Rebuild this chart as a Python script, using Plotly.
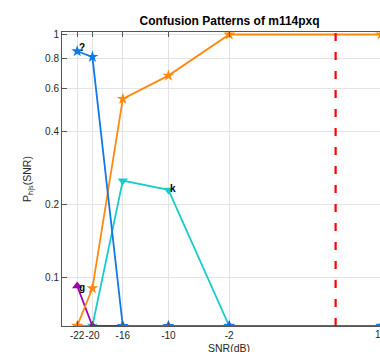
import math
import plotly.graph_objects as go

# ---- data ----
snr = [-22, -20, -16, -10, -2, 18]
p_q = [0.853, 0.809, 0, 0, 0, 0]        # '?'  (blue)
p_x = [0, 0.09, 0.543, 0.677, 1.0, 1.0]  # orange
p_k = [0, 0, 0.25, 0.229, 0, 0]         # 'k'  (cyan)
p_g = [0.092, 0, 0, 0, 0, 0]            # 'g'  (purple)
x_ticks = [-22, -20, -16, -10, -2, 18]
y_ticks = [0.1, 0.2, 0.4, 0.6, 0.8, 1]
y_tick_text = ["0.1", "0.2", "0.4", "0.6", "0.8", "1"]
snr_marker = 12

YMIN_LOG = -1.201
YMAX_LOG = 0.0103
floor = 10 ** YMIN_LOG


def clamp(v):
    return [max(a, floor) for a in v]


series = [
    ("k", p_k, "#19cccc", "triangle-down"),
    ("g", p_g, "#a300b0", "triangle-up"),
    ("x", p_x, "#ff8a10", "star"),
    ("?", p_q, "#1078ee", "star"),
]

fig = go.Figure()
for name, vals, col, sym in series:
    fig.add_trace(go.Scatter(
        x=snr, y=clamp(vals), mode="lines+markers", name=name,
        line=dict(color=col, width=1.8),
        marker=dict(color=col, symbol=sym, size=9, line=dict(width=0)),
        cliponaxis=True, showlegend=False,
    ))

fig.add_shape(type="line", x0=snr_marker, x1=snr_marker, xref="x",
              y0=0, y1=1, yref="paper",
              line=dict(color="#ff0000", width=2.2, dash="8px,11px"))

font = "Liberation Sans, Arial, Helvetica, sans-serif"

# point labels (annotation y on a log axis is given in log10 units)
labels = [("?", snr[0], p_q[0], 4), ("k", snr[3], p_k[3], 1), ("g", snr[0], p_g[0], -1)]
for txt, xv, yv, ys in labels:
    fig.add_annotation(x=xv, y=math.log10(yv), text="<b>%s</b>" % txt, showarrow=False,
                       xanchor="left", yanchor="middle", yshift=ys, xshift=0,
                       font=dict(size=10, color="black", family=font))

# last x tick label lies beyond the visible edge
fig.add_annotation(x=1.004, xref="paper", y=-0.03, yref="paper", text=str(x_ticks[-1]),
                   showarrow=False, xanchor="center", yanchor="middle",
                   font=dict(size=10, color="#262626", family=font))

# axis titles
fig.add_annotation(x=0.524, xref="paper", y=-0.075, yref="paper", text="SNR(dB)",
                   showarrow=False, xanchor="center", yanchor="middle",
                   font=dict(size=10.5, color="#262626", family=font))
fig.add_annotation(x=-0.107, xref="paper", y=0.5, yref="paper",
                   text="P<sub>h|s</sub>(SNR)", textangle=-90,
                   showarrow=False, xanchor="center", yanchor="middle",
                   font=dict(size=10.5, color="#262626", family=font))

fig.update_layout(
    width=380, height=352,
    margin=dict(l=62, r=0, t=32, b=26),
    paper_bgcolor="white", plot_bgcolor="white",
    title=dict(text="<b>Confusion Patterns of m114pxq</b>", x=0.527, xref="paper",
               xanchor="center", y=0.94, yanchor="middle",
               font=dict(size=12, color="black", family=font)),
    font=dict(family=font, size=10, color="#262626"),
)
fig.update_xaxes(
    range=[-24, 17.84], tickvals=x_ticks[:-1], ticktext=[str(t) for t in x_ticks[:-1]],
    tickangle=0,
    showgrid=True, gridcolor="#e3e3e3", gridwidth=1,
    showline=True, linecolor="#555555", linewidth=1, mirror="ticks",
    ticks="inside", ticklen=5, tickcolor="#555555",
    zeroline=False, automargin=False,
    tickfont=dict(size=10, color="#262626", family=font),
)
fig.update_yaxes(
    type="log", range=[YMIN_LOG, YMAX_LOG], tickvals=y_ticks, ticktext=y_tick_text,
    showgrid=True, gridcolor="#e3e3e3", gridwidth=1,
    showline=True, linecolor="#555555", linewidth=1, mirror=False,
    ticks="inside", ticklen=5, tickcolor="#555555",
    zeroline=False, automargin=False,
    tickfont=dict(size=10, color="#262626", family=font),
)
# extra x gridline at the last tick (18)
fig.add_shape(type="line", x0=x_ticks[-1], x1=x_ticks[-1], xref="x", y0=0, y1=1,
              yref="paper", line=dict(color="#e3e3e3", width=1), layer="below")

fig.write_html("out.html")
